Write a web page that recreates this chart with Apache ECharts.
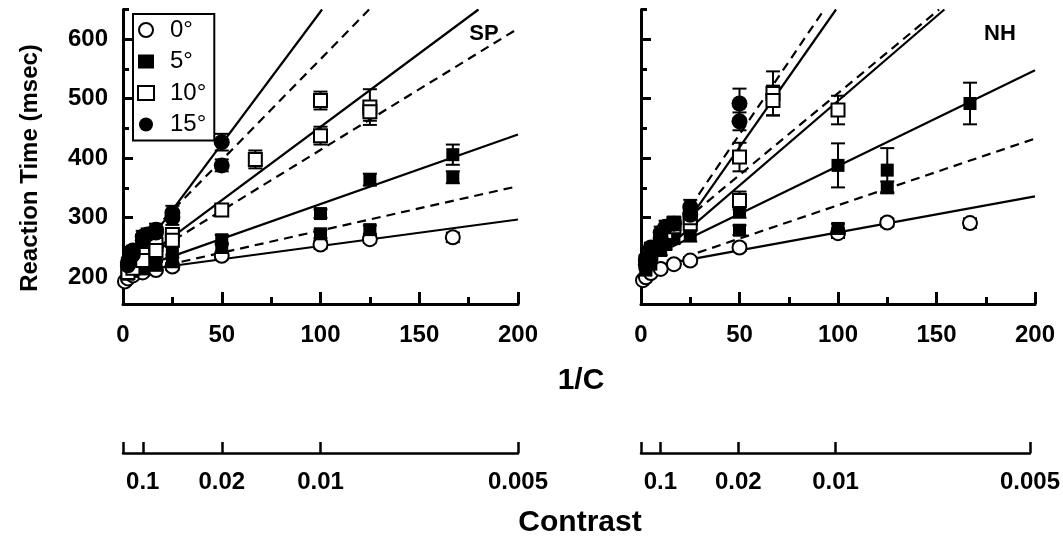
<!DOCTYPE html>
<html>
<head>
<meta charset="utf-8">
<title>Reaction time vs 1/C</title>
<script src="https://cdn.jsdelivr.net/npm/echarts@6/dist/echarts.min.js"></script>
</head>
<body style="margin:0;background:#fff">
<div id="main" style="width:1063px;height:542px;"></div>
<script>
// ---- data ----
var conditions = ['0°', '5°', '10°', '15°'];

// SP panel
var spX0 = [1, 2.5, 5, 10, 16.7, 25, 50, 100, 125, 167];
var spY0 = [193, 198, 203, 208, 212, 218, 236, 255, 264, 267];
var spE0 = [5, 5, 5, 5, 5, 6, 6, 7, 6, 8];

var spX5 = [2.5, 5, 10, 16.7, 25, 50, 100, 125, 167, 2.5, 5, 10, 16.7, 25, 50, 100, 125, 167];
var spY5 = [210, 218, 226, 235, 245, 263, 307, 364, 406, 205, 210, 214, 220, 226, 250, 273, 280, 368];
var spE5 = [6, 6, 6, 7, 7, 8, 7, 10, 17, 6, 6, 6, 6, 7, 7, 7, 7, 10];

var spX10 = [2.5, 5, 10, 16.7, 25, 50, 100, 125, 2.5, 5, 10, 16.7, 25, 67, 100, 125];
var spY10 = [213, 222, 238, 255, 272, 313, 438, 486, 208, 215, 228, 245, 262, 398, 497, 478];
var spE10 = [6, 6, 8, 8, 10, 10, 15, 30, 6, 6, 8, 8, 10, 15, 15, 15];

var spX15 = [2.5, 5, 10, 12.5, 16.7, 25, 50, 2.5, 5, 10, 16.7, 25, 50];
var spY15 = [225, 245, 268, 272, 280, 308, 427, 220, 238, 262, 275, 300, 388];
var spE15 = [8, 8, 10, 10, 10, 12, 14, 8, 8, 10, 10, 12, 10];

// fitted lines, SP (start / end points)
var spLineX0 = [0, 0, 0, 0, 0, 10, 0];
var spLineY0 = [208, 204, 206, 210, 206, 261, 202];
var spLineX1 = [200, 200, 200, 200, 180, 124.6, 100.8];
var spLineY1 = [297, 353, 440, 618, 650, 650, 650];

// NH panel
var nhX0 = [1, 2.5, 5, 10, 16.7, 25, 50, 100, 125, 167];
var nhY0 = [195, 200, 207, 214, 222, 228, 250, 274, 292, 291];
var nhE0 = [5, 5, 5, 5, 6, 6, 6, 8, 7, 8];

var nhX5 = [2.5, 5, 10, 12.5, 16.7, 25, 50, 100, 125, 167, 2.5, 5, 10, 12.5, 16.7, 25, 50, 100, 125];
var nhY5 = [220, 232, 262, 275, 282, 292, 312, 388, 380, 492, 212, 222, 245, 255, 265, 270, 279, 282, 351];
var nhE5 = [8, 8, 10, 10, 10, 12, 12, 37, 37, 35, 6, 6, 8, 8, 8, 10, 8, 8, 10];

var nhX10 = [2.5, 5, 10, 12.5, 16.7, 25, 50, 67, 100, 16.7, 25, 50, 67];
var nhY10 = [225, 240, 265, 275, 285, 290, 329, 509, 481, 290, 300, 402, 497];
var nhE10 = [8, 8, 10, 10, 12, 12, 15, 37, 24, 12, 12, 24, 25];

var nhX15 = [2.5, 5, 10, 12.5, 16.7, 25, 50, 2.5, 5, 10, 25, 50];
var nhY15 = [230, 250, 275, 285, 290, 318, 492, 222, 240, 265, 305, 462];
var nhE15 = [8, 8, 10, 10, 10, 12, 25, 8, 8, 10, 12, 15];

// fitted lines, NH
var nhLineX0 = [0, 0, 5, 0, 10, 25, 25];
var nhLineY0 = [215, 209, 234, 212, 262, 300, 318];
var nhLineX1 = [200, 200, 200, 154, 151.3, 99, 93];
var nhLineY1 = [336, 433, 548, 650, 650, 650, 650];

// axis ticks
var yMajor = [200, 300, 400, 500, 600];
var yMinor = [250, 350, 450, 550, 650];
var contrastTicks = [0, 10, 50, 100, 200];
var contrastLabelAt = [10, 50, 100, 200];
var contrastLabels = ['0.1', '0.02', '0.01', '0.005'];

// ---- styles ----
var spDash = ['solid', 'dashed', 'solid', 'dashed', 'solid', 'dashed', 'solid'];
var nhDash = ['solid', 'dashed', 'solid', 'solid', 'dashed', 'solid', 'dashed'];
var FONT = 'Liberation Sans';
var markStyle = {
  '0°': { symbol: 'circle', symbolSize: 14, itemStyle: { color: '#fff', borderColor: '#000', borderWidth: 2, opacity: 1 } },
  '5°': { symbol: 'rect', symbolSize: 13, itemStyle: { color: '#000', borderColor: '#000', borderWidth: 0, opacity: 1 } },
  '10°': { symbol: 'rect', symbolSize: 13, itemStyle: { color: '#fff', borderColor: '#000', borderWidth: 2, opacity: 1 } },
  '15°': { symbol: 'circle', symbolSize: 16, itemStyle: { color: '#000', borderColor: '#000', borderWidth: 0, opacity: 1 } }
};

function pairs(xs, ys) {
  return xs.map(function (x, i) { return [x, ys[i]]; });
}
function ranges(xs, ys, es) {
  return xs.map(function (x, i) { return [x, ys[i] - es[i], ys[i] + es[i]]; });
}
function renderBar(params, api) {
  var x = api.value(0);
  var top = api.coord([x, api.value(2)]);
  var bot = api.coord([x, api.value(1)]);
  var w = 7;
  var st = { stroke: '#000', lineWidth: 2 };
  return {
    type: 'group',
    children: [
      { type: 'line', shape: { x1: top[0], y1: top[1], x2: bot[0], y2: bot[1] }, style: st },
      { type: 'line', shape: { x1: top[0] - w, y1: top[1], x2: top[0] + w, y2: top[1] }, style: st },
      { type: 'line', shape: { x1: bot[0] - w, y1: bot[1], x2: bot[0] + w, y2: bot[1] }, style: st }
    ]
  };
}

var series = [];
function addPanel(g, lx0, ly0, lx1, ly1, dash, sets) {
  lx0.forEach(function (x0, i) {
    series.push({
      type: 'line', xAxisIndex: g, yAxisIndex: g * 2, silent: true, z: 1,
      data: [[x0, ly0[i]], [lx1[i], ly1[i]]],
      showSymbol: false, symbol: 'none',
      lineStyle: { color: '#000', width: 2.2, type: dash[i] === 'dashed' ? [9, 6] : 'solid' }
    });
  });
  sets.forEach(function (s) {
    series.push({
      type: 'custom', xAxisIndex: g, yAxisIndex: g * 2, silent: true, z: 2,
      renderItem: renderBar, encode: { x: 0, y: [1, 2] },
      data: ranges(s[0], s[1], s[2])
    });
  });
  sets.forEach(function (s, k) {
    var name = conditions[k];
    series.push({
      type: 'scatter', name: name, xAxisIndex: g, yAxisIndex: g * 2, z: 3,
      symbol: markStyle[name].symbol, symbolSize: markStyle[name].symbolSize,
      itemStyle: markStyle[name].itemStyle,
      data: pairs(s[0], s[1])
    });
  });
}
addPanel(0, spLineX0, spLineY0, spLineX1, spLineY1, spDash,
  [[spX0, spY0, spE0], [spX5, spY5, spE5], [spX10, spY10, spE10], [spX15, spY15, spE15]]);
addPanel(1, nhLineX0, nhLineY0, nhLineX1, nhLineY1, nhDash,
  [[nhX0, nhY0, nhE0], [nhX5, nhY5, nhE5], [nhX10, nhY10, nhE10], [nhX15, nhY15, nhE15]]);

var axisLineSt = { color: '#000', width: 3 };
var tickFont = { color: '#000', fontSize: 24, fontWeight: 'bold', fontFamily: FONT };
function mainX(g) {
  return {
    type: 'value', gridIndex: g, min: 0, max: 200, interval: 50,
    axisLine: { lineStyle: axisLineSt },
    axisTick: { inside: true, length: 12, lineStyle: { color: '#000', width: 3 } },
    minorTick: { show: true, splitNumber: 2, length: 7, lineStyle: { color: '#000', width: 3 } },
    splitLine: { show: false },
    axisLabel: Object.assign({ margin: 19 }, tickFont)
  };
}
function mainY(g, labels) {
  return {
    type: 'value', gridIndex: g, min: 155, max: 650, position: 'left',
    axisLine: { lineStyle: axisLineSt },
    axisTick: { inside: true, length: 10, customValues: yMajor, lineStyle: { color: '#000', width: 3 } },
    splitLine: { show: false },
    axisLabel: Object.assign({ show: labels, customValues: yMajor, margin: 15 }, tickFont)
  };
}
function minorY(g) {
  return {
    type: 'value', gridIndex: g, min: 155, max: 650, position: 'left',
    axisLine: { show: false },
    axisTick: { inside: true, length: 6, customValues: yMinor, lineStyle: { color: '#000', width: 3 } },
    splitLine: { show: false },
    axisLabel: { show: false }
  };
}
function contrastX(g) {
  return {
    type: 'value', gridIndex: g, min: 0, max: 200,
    axisLine: { lineStyle: { color: '#000', width: 2.5 } },
    axisTick: { inside: true, length: 11, customValues: contrastTicks, lineStyle: { color: '#000', width: 2.5 } },
    splitLine: { show: false },
    axisLabel: Object.assign({
      customValues: contrastLabelAt, margin: 17,
      formatter: function (v) { return contrastLabels[contrastLabelAt.indexOf(v)]; }
    }, tickFont)
  };
}
function hiddenY(g) {
  return { type: 'value', gridIndex: g, min: 0, max: 1, show: false };
}

var chart = echarts.init(document.getElementById('main'), null, { renderer: 'canvas' });
chart.setOption({
  animation: false,
  backgroundColor: '#fff',
  grid: [
    { left: 123, top: 9.5, width: 395, height: 294.5 },
    { left: 641, top: 9.5, width: 394, height: 294.5 },
    { left: 123, top: 443, width: 395, height: 10 },
    { left: 641, top: 443, width: 394, height: 10 }
  ],
  xAxis: [mainX(0), mainX(1), contrastX(2), contrastX(3)],
  yAxis: [mainY(0, true), minorY(0), mainY(1, false), minorY(1), hiddenY(2), hiddenY(3)],
  legend: {
    data: conditions, orient: 'vertical', left: 133, top: 14,
    borderColor: '#000', borderWidth: 2, padding: [4, 8, 4, 4],
    itemWidth: 16, itemHeight: 14, itemGap: 7.5, selectedMode: false,
    textStyle: { color: '#000', fontSize: 24, fontFamily: FONT, padding: [0, 0, 0, 11] }
  },
  graphic: [
    { type: 'text', x: 30, y: 168, rotation: Math.PI / 2,
      style: { text: 'Reaction Time (msec)', align: 'center', verticalAlign: 'middle', fill: '#000', font: 'bold 24px "Liberation Sans"' } },
    { type: 'text', x: 581, y: 381,
      style: { text: '1/C', align: 'center', verticalAlign: 'middle', fill: '#000', font: 'bold 30px "Liberation Sans"' } },
    { type: 'text', x: 580, y: 523,
      style: { text: 'Contrast', align: 'center', verticalAlign: 'middle', fill: '#000', font: 'bold 30px "Liberation Sans"' } },
    { type: 'text', x: 484, y: 34,
      style: { text: 'SP', align: 'center', verticalAlign: 'middle', fill: '#000', font: 'bold 22px "Liberation Sans"' } },
    { type: 'text', x: 1000, y: 34,
      style: { text: 'NH', align: 'center', verticalAlign: 'middle', fill: '#000', font: 'bold 22px "Liberation Sans"' } }
  ],
  series: series
});
</script>
</body>
</html>
